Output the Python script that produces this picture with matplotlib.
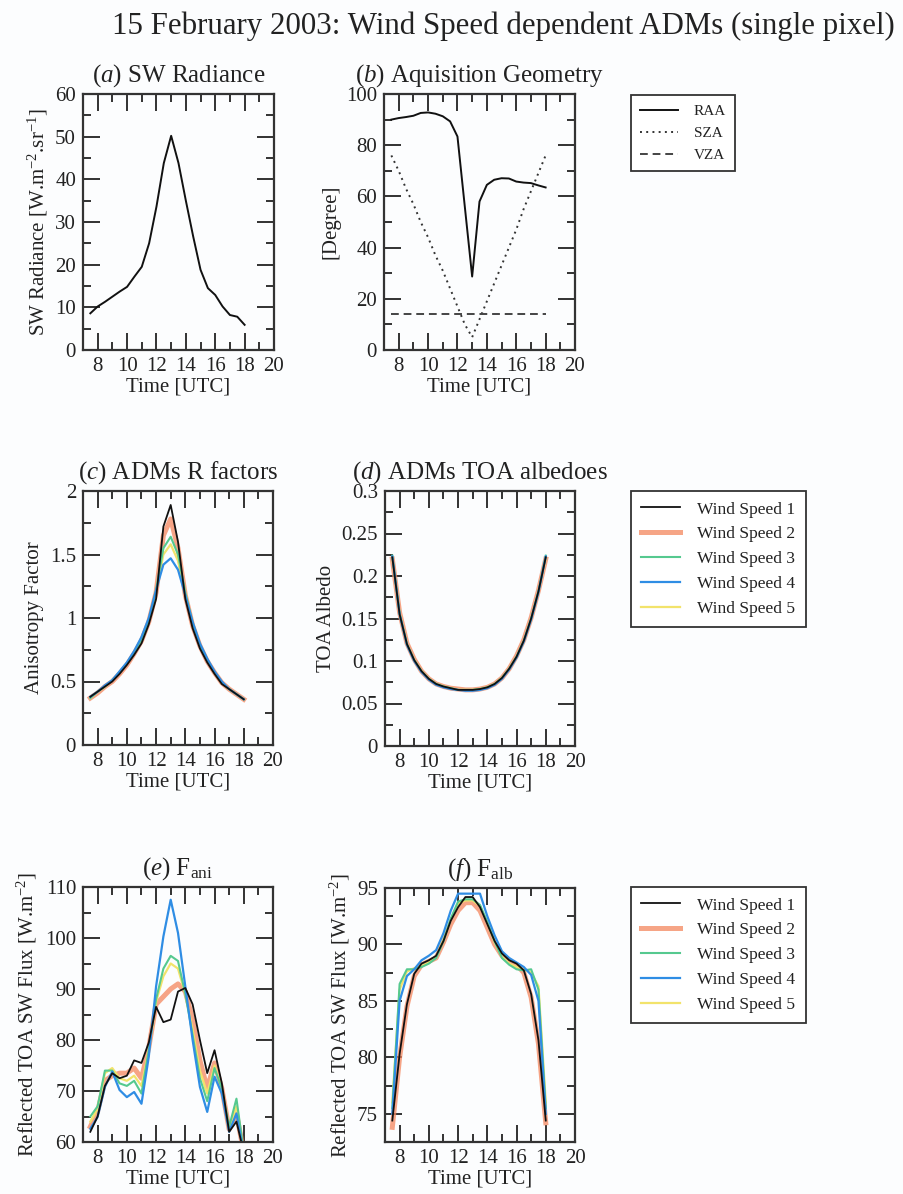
import numpy as np
import matplotlib
matplotlib.use("Agg")
from matplotlib import pyplot as plt
from matplotlib.ticker import MultipleLocator, FuncFormatter

plt.rcParams["font.family"] = ["Liberation Serif", "DejaVu Serif"]
plt.rcParams["mathtext.fontset"] = "custom"
plt.rcParams["mathtext.rm"] = "Liberation Serif"
plt.rcParams["mathtext.it"] = "Liberation Serif:italic"
plt.rcParams["text.color"] = "#222222"
plt.rcParams["axes.labelcolor"] = "#222222"
plt.rcParams["xtick.color"] = "#222222"
plt.rcParams["ytick.color"] = "#222222"

# half-hourly slots, 15 Feb 2003
hours = np.arange(7.5, 18.01, 0.5)

radiance = [8.6, 10.2, 11.3, 12.5, 13.7, 14.8, 17.2, 19.5, 25.0, 33.6, 43.8,
            50.2, 43.8, 35.0, 26.6, 18.8, 14.5, 12.9, 10.2, 8.2, 7.8, 5.9]

raa = [90.0, 90.6, 91.0, 91.5, 92.6, 92.8, 92.3, 91.3, 89.3, 83.4, 56.0,
       28.7, 58.0, 64.5, 66.5, 67.1, 67.0, 65.8, 65.4, 65.2, 64.3, 63.5]
sza = [76.0, 70.0, 63.0, 57.0, 50.0, 44.0, 37.0, 31.0, 24.0, 17.0, 10.0,
       5.0, 12.0, 19.0, 26.0, 33.0, 40.0, 47.0, 55.0, 62.0, 69.0, 76.0]
vza = [14.0] * 22

ws_labels = ["Wind Speed 1", "Wind Speed 2", "Wind Speed 3", "Wind Speed 4", "Wind Speed 5"]

# anisotropy factors per wind speed class
r_ws1 = [0.38, 0.42, 0.46, 0.50, 0.56, 0.63, 0.71, 0.80, 0.95, 1.15, 1.72,
         1.89, 1.60, 1.15, 0.92, 0.76, 0.65, 0.56, 0.48, 0.44, 0.40, 0.36]
r_ws2 = [0.37, 0.41, 0.46, 0.50, 0.56, 0.63, 0.72, 0.82, 0.97, 1.20, 1.65,
         1.78, 1.55, 1.18, 0.94, 0.78, 0.66, 0.57, 0.49, 0.44, 0.40, 0.36]
r_ws3 = [0.37, 0.42, 0.46, 0.51, 0.57, 0.64, 0.73, 0.83, 0.98, 1.22, 1.55,
         1.64, 1.50, 1.20, 0.96, 0.79, 0.67, 0.57, 0.49, 0.44, 0.40, 0.36]
r_ws4 = [0.38, 0.42, 0.47, 0.51, 0.58, 0.65, 0.74, 0.85, 1.00, 1.22, 1.42,
         1.47, 1.38, 1.18, 0.97, 0.80, 0.68, 0.58, 0.50, 0.44, 0.40, 0.36]
r_ws5 = [0.37, 0.42, 0.46, 0.51, 0.57, 0.64, 0.73, 0.83, 0.98, 1.21, 1.50,
         1.58, 1.45, 1.19, 0.96, 0.79, 0.67, 0.57, 0.49, 0.44, 0.40, 0.36]

# TOA albedo per wind speed class
alb_ws1 = [0.222, 0.155, 0.120, 0.101, 0.088, 0.079, 0.073, 0.070, 0.068, 0.066, 0.066,
           0.066, 0.067, 0.069, 0.073, 0.080, 0.091, 0.105, 0.124, 0.150, 0.182, 0.222]
alb_ws2 = [0.220, 0.157, 0.121, 0.102, 0.088, 0.079, 0.073, 0.070, 0.068, 0.067, 0.066,
           0.066, 0.067, 0.069, 0.073, 0.080, 0.091, 0.106, 0.125, 0.151, 0.183, 0.220]
alb_ws3 = [0.224, 0.156, 0.120, 0.101, 0.088, 0.079, 0.073, 0.070, 0.068, 0.066, 0.066,
           0.066, 0.067, 0.069, 0.073, 0.080, 0.091, 0.105, 0.124, 0.150, 0.182, 0.224]
alb_ws4 = [0.223, 0.155, 0.119, 0.100, 0.087, 0.078, 0.072, 0.069, 0.067, 0.066, 0.065,
           0.065, 0.066, 0.068, 0.072, 0.079, 0.090, 0.104, 0.123, 0.149, 0.181, 0.223]
alb_ws5 = [0.221, 0.156, 0.120, 0.101, 0.088, 0.079, 0.073, 0.070, 0.068, 0.066, 0.066,
           0.066, 0.067, 0.069, 0.073, 0.080, 0.091, 0.105, 0.124, 0.150, 0.182, 0.221]

# reflected flux from anisotropy factors
fani_ws1 = [62.0, 65.0, 71.0, 73.5, 72.5, 73.0, 76.0, 75.5, 79.5, 86.5, 83.5,
            84.0, 89.5, 90.2, 87.0, 80.0, 73.5, 78.0, 71.5, 62.0, 64.0, 58.0]
fani_ws2 = [63.0, 66.0, 72.0, 73.0, 73.5, 73.5, 74.5, 72.5, 78.5, 87.0, 88.5,
            90.0, 91.0, 89.5, 84.0, 76.0, 70.5, 75.5, 70.5, 62.5, 65.5, 58.0]
fani_ws3 = [65.0, 67.0, 74.0, 74.0, 71.5, 71.0, 72.0, 69.5, 78.0, 88.0, 94.0,
            96.5, 95.5, 89.0, 81.0, 72.5, 68.0, 74.5, 70.5, 63.0, 68.5, 58.0]
fani_ws4 = [62.6, 64.9, 70.8, 73.8, 70.2, 68.8, 69.8, 67.5, 76.7, 90.5, 100.3,
            107.5, 101.0, 90.5, 80.0, 70.8, 65.9, 72.8, 69.5, 62.0, 65.6, 57.7]
fani_ws5 = [64.0, 66.5, 73.5, 74.5, 72.5, 72.0, 73.0, 71.0, 78.0, 87.5, 92.5,
            95.0, 94.0, 89.0, 82.0, 74.0, 69.5, 75.0, 70.5, 62.5, 67.0, 58.0]

# reflected flux from albedoes
falb_ws1 = [74.4, 80.3, 84.7, 87.4, 88.3, 88.6, 89.0, 90.3, 92.1, 93.3, 94.2,
            94.2, 93.3, 91.8, 90.3, 89.2, 88.6, 88.3, 87.7, 85.6, 81.5, 74.4]
falb_ws2 = [73.8, 80.0, 84.5, 87.2, 88.2, 88.5, 88.8, 90.2, 91.8, 93.0, 93.7,
            93.7, 93.0, 91.5, 90.0, 89.0, 88.5, 88.2, 87.5, 85.3, 81.2, 74.2]
falb_ws3 = [75.5, 86.5, 87.8, 87.8, 88.0, 88.3, 88.8, 90.3, 92.3, 93.8, 94.0,
            94.0, 93.5, 92.0, 90.3, 88.8, 88.2, 87.8, 87.7, 87.8, 86.0, 75.5]
falb_ws4 = [75.0, 85.0, 87.2, 87.8, 88.6, 89.0, 89.5, 91.0, 93.0, 94.5, 94.5,
            94.5, 94.5, 92.5, 90.8, 89.4, 88.8, 88.4, 88.0, 87.3, 85.0, 75.0]
falb_ws5 = [76.0, 86.0, 87.6, 87.9, 88.1, 88.4, 88.9, 90.4, 92.2, 93.6, 93.9,
            93.9, 93.4, 91.9, 90.2, 88.9, 88.3, 88.0, 87.8, 87.5, 86.3, 76.0]

ws_colors = ["#111111", "#f4875e", "#55c98f", "#2f8de4", "#f2e36b"]
ws_widths = [1.3, 3.6, 1.5, 1.6, 1.6]
ws_alpha = [1.0, 0.75, 1.0, 1.0, 1.0]
draw_order = [1, 4, 2, 3, 0]

W, H = 904, 1194
fig = plt.figure(figsize=(W / 100, H / 100), dpi=100, facecolor="#fcfdfe")


def box(l, t, r, b):
    return [l / W, 1 - b / H, (r - l) / W, (b - t) / H]


def style(ax, ylim, ymaj, ymin, ylabel):
    ax.set_facecolor("#fcfdfe")
    ax.set_xlim(7, 20)
    ax.set_ylim(*ylim)
    ax.xaxis.set_major_locator(MultipleLocator(2))
    ax.xaxis.set_minor_locator(MultipleLocator(1))
    ax.yaxis.set_major_locator(MultipleLocator(ymaj))
    ax.yaxis.set_minor_locator(MultipleLocator(ymin))
    ax.yaxis.set_major_formatter(FuncFormatter(lambda v, p: "%g" % round(v, 4)))
    ax.tick_params(which="both", direction="in", top=True, right=True,
                   width=1.3, labelsize=15, pad=5)
    ax.tick_params(which="major", length=12)
    ax.tick_params(which="minor", length=6)
    for s in ax.spines.values():
        s.set_linewidth(1.6)
        s.set_color("#333333")
    ax.set_xlabel("Time [UTC]", fontsize=15, labelpad=1)
    ax.set_ylabel(ylabel, fontsize=15, labelpad=4)


def ws_lines(ax, series):
    handles = [None] * 5
    for i in draw_order:
        handles[i], = ax.plot(hours, series[i], color=ws_colors[i], lw=ws_widths[i],
                              alpha=ws_alpha[i], label=ws_labels[i])
    return handles


fig.text(0.557, 0.978, "15 February 2003: Wind Speed dependent ADMs (single pixel)",
         ha="center", va="center", fontsize=22.2)

TITLE_SIZE = 18

# (a)
ax_a = fig.add_axes(box(83, 94, 274, 350))
ax_a.plot(hours, radiance, color="#111111", lw=1.4)
style(ax_a, (0, 60), 10, 5, r"SW Radiance [W.m$^{-2}$.sr$^{-1}$]")
ax_a.set_title(r"($\it{a}$) SW Radiance", fontsize=TITLE_SIZE, pad=9)

# (b)
ax_b = fig.add_axes(box(384, 94, 575, 350))
l1, = ax_b.plot(hours, raa, color="#111111", lw=1.4, label="RAA")
l2, = ax_b.plot(hours, sza, color="#333333", lw=1.4, ls=(0, (1, 2.2)), label="SZA")
l3, = ax_b.plot(hours, vza, color="#444444", lw=1.4, ls=(0, (4, 2.5)), label="VZA")
style(ax_b, (0, 100), 20, 10, "[Degree]")
ax_b.set_title(r"($\it{b}$) Aquisition Geometry", fontsize=TITLE_SIZE, pad=9)

leg_kw = dict(loc="upper left", fancybox=False, framealpha=1, edgecolor="#333333",
              handletextpad=1.0, borderaxespad=0, borderpad=0.6)
lg = fig.legend([l1, l2, l3], ["RAA", "SZA", "VZA"], bbox_to_anchor=(631 / W, 1 - 95 / H),
                fontsize=11, labelspacing=0.55, handlelength=2.5, **leg_kw)
lg.get_frame().set_linewidth(1.3)

# (c)
ax_c = fig.add_axes(box(83, 491, 273, 745))
hc = ws_lines(ax_c, [r_ws1, r_ws2, r_ws3, r_ws4, r_ws5])
style(ax_c, (0, 2), 0.5, 0.25, "Anisotropy Factor")
ax_c.set_title(r"($\it{c}$) ADMs R factors", fontsize=TITLE_SIZE, pad=9)

# (d)
ax_d = fig.add_axes(box(385, 491, 575, 746))
ws_lines(ax_d, [alb_ws1, alb_ws2, alb_ws3, alb_ws4, alb_ws5])
style(ax_d, (0, 0.3), 0.05, 0.025, "TOA Albedo")
ax_d.set_title(r"($\it{d}$) ADMs TOA albedoes", fontsize=TITLE_SIZE, pad=9)

lg = fig.legend(hc, ws_labels, bbox_to_anchor=(631 / W, 1 - 491 / H),
                fontsize=12.5, labelspacing=0.5, handlelength=2.2, **leg_kw)
lg.get_frame().set_linewidth(1.3)

# (e)
ax_e = fig.add_axes(box(83, 887, 273, 1142))
he = ws_lines(ax_e, [fani_ws1, fani_ws2, fani_ws3, fani_ws4, fani_ws5])
style(ax_e, (60, 110), 10, 5, r"Reflected TOA SW Flux [W.m$^{-2}$]")
ax_e.set_title(r"($\it{e}$) F$_{\rm ani}$", fontsize=TITLE_SIZE, pad=9)

# (f)
ax_f = fig.add_axes(box(385, 888, 575, 1142))
ws_lines(ax_f, [falb_ws1, falb_ws2, falb_ws3, falb_ws4, falb_ws5])
style(ax_f, (72.5, 95), 5, 2.5, r"Reflected TOA SW Flux [W.m$^{-2}$]")
ax_f.set_title(r"($\it{f}$) F$_{\rm alb}$", fontsize=TITLE_SIZE, pad=9)

lg = fig.legend(he, ws_labels, bbox_to_anchor=(631 / W, 1 - 887 / H),
                fontsize=12.5, labelspacing=0.5, handlelength=2.2, **leg_kw)
lg.get_frame().set_linewidth(1.3)

fig.savefig("out.png", dpi=100, facecolor=fig.get_facecolor())
